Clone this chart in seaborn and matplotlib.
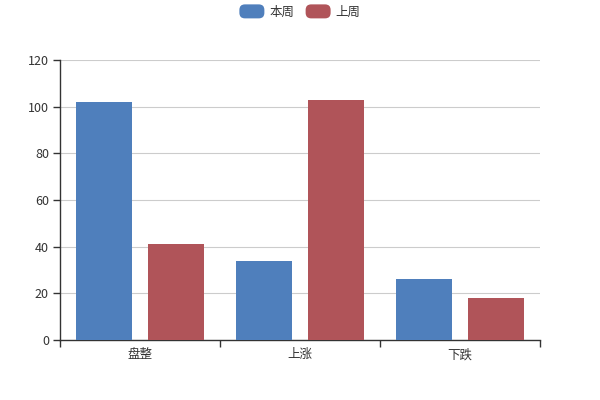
import matplotlib
matplotlib.use("Agg")
import matplotlib.pyplot as plt
import seaborn as sns
import pandas as pd
from matplotlib.patches import FancyBboxPatch, Patch
from matplotlib.legend_handler import HandlerPatch

categories = ["盘整", "上涨", "下跌"]
this_week = [102, 34, 26]
last_week = [41, 103, 18]
series_names = ["本周", "上周"]
colors = ["#4f7fbc", "#b05459"]
yticks = [0, 20, 40, 60, 80, 100, 120]

sns.set_theme(style="white")
plt.rcParams["font.family"] = ["Noto Sans CJK SC", "DejaVu Sans"]

df = pd.DataFrame({
    "cat": categories * 2,
    "val": this_week + last_week,
    "series": [series_names[0]] * 3 + [series_names[1]] * 3,
})

fig = plt.figure(figsize=(6, 4), dpi=100)
ax = fig.add_axes([0.1, 0.15, 0.8, 0.7])
sns.barplot(data=df, x="cat", y="val", hue="series", palette=colors,
            saturation=1, width=0.9, gap=0.222, ax=ax, legend=False, zorder=3,
            edgecolor="none", linewidth=0)

ax.set_xlim(-0.5, 2.5)
ax.set_ylim(0, 120)
ax.set_yticks(yticks)
ax.set_xlabel("")
ax.set_ylabel("")
ax.yaxis.grid(True, color="#cccccc", linewidth=0.8, zorder=0)
ax.set_axisbelow(True)
for s in ["top", "right"]:
    ax.spines[s].set_visible(False)
for s in ["left", "bottom"]:
    ax.spines[s].set_color("#333333")
    ax.spines[s].set_linewidth(1)
ax.set_xticks([-0.5, 0.5, 1.5, 2.5], minor=True)
ax.tick_params(axis="x", which="both", bottom=True)
ax.tick_params(axis="x", which="major", length=0, labelsize=9, colors="#333333", pad=6)
ax.tick_params(axis="x", which="minor", length=5, width=1, color="#333333", direction="out")
ax.tick_params(axis="y", left=True, length=5, width=1, color="#333333", labelsize=9, labelcolor="#333333", direction="out", pad=3)


class RoundHandler(HandlerPatch):
    def create_artists(self, legend, orig_handle, xdescent, ydescent, width, height, fontsize, trans):
        h = 14 * 72 / 100
        p = FancyBboxPatch((-xdescent, -ydescent + (height - h) / 2), width, h,
                           boxstyle="round,pad=0,rounding_size=4",
                           facecolor=orig_handle.get_facecolor(), edgecolor="none",
                           transform=trans)
        return [p]


handles = [Patch(facecolor=c, label=n) for c, n in zip(colors, series_names)]
fig.legend(handles=handles, loc="center", bbox_to_anchor=(0.5, 0.97), ncol=2,
           frameon=False, fontsize=9, handlelength=2.0, handleheight=1.1,
           handletextpad=0.4, columnspacing=0.9,
           handler_map={Patch: RoundHandler()}, labelcolor="#333333")

fig.savefig("out.png", dpi=100)
